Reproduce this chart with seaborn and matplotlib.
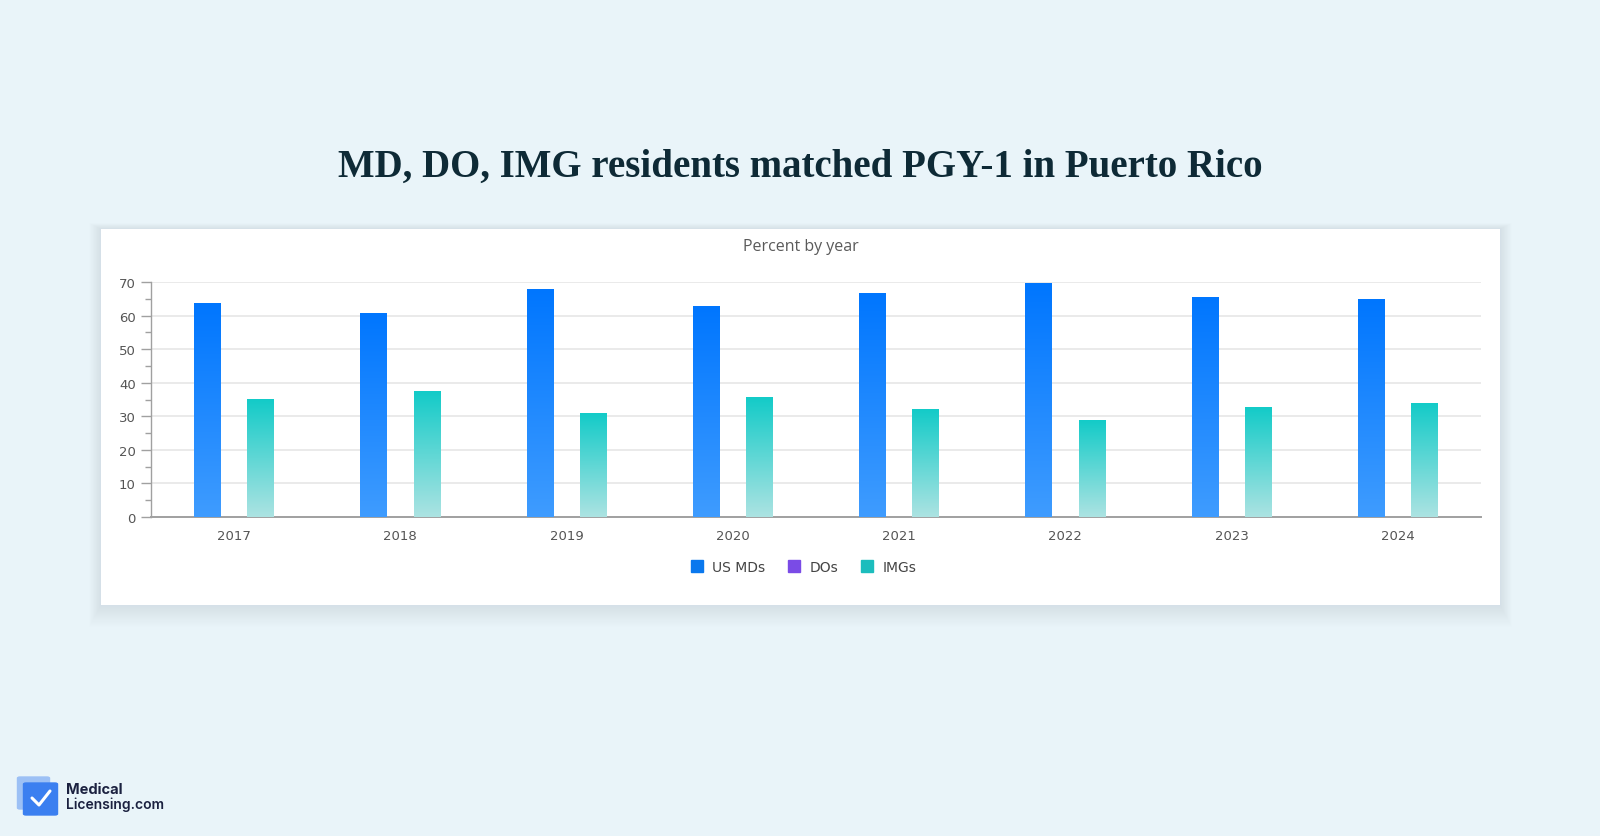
import matplotlib
matplotlib.use("Agg")
import matplotlib.pyplot as plt
import seaborn as sns
import pandas as pd
import numpy as np
from matplotlib.patches import Rectangle, FancyBboxPatch
from matplotlib.lines import Line2D
from matplotlib.colors import LinearSegmentedColormap

# ---------------- data ----------------
years = ["2017", "2018", "2019", "2020", "2021", "2022", "2023", "2024"]
series = ["US MDs", "DOs", "IMGs"]
us_mds = [63.6, 60.5, 67.8, 62.8, 66.6, 69.7, 65.5, 64.7]
dos = [0, 0, 0, 0, 0, 0, 0, 0]
imgs = [34.9, 37.5, 30.7, 35.6, 31.9, 28.8, 32.6, 33.8]
y_ticks = [0, 10, 20, 30, 40, 50, 60, 70]

title = "MD, DO, IMG residents matched PGY-1 in Puerto Rico"
subtitle = "Percent by year"

df = pd.DataFrame({
    "year": years * 3,
    "series": [series[0]] * 8 + [series[1]] * 8 + [series[2]] * 8,
    "value": us_mds + dos + imgs,
})

legend_colors = {"US MDs": "#0a78ee", "DOs": "#7a4be6", "IMGs": "#1cbdbd"}
gradients = {
    "US MDs": ("#3f9cff", "#0076fe"),
    "DOs": ("#a583f0", "#7a4be6"),
    "IMGs": ("#ace3e2", "#13cbc8"),
}

sns.set_theme(style="white")
plt.rcParams["font.family"] = ["DejaVu Sans"]

W, H = 1600, 837
fig = plt.figure(figsize=(16, 8.37), dpi=100)
fig.patch.set_facecolor("#e9f4f9")

def fx(x):
    return x / W

def fy(y):
    return 1 - y / H

# soft panel shadow + panel
px0, py0, px1, py1 = 101, 230, 1500, 606
for i in range(20, 0, -1):
    fig.add_artist(Rectangle((fx(px0 - i * 0.6), fy(py1 + i * 1.1)), fx(px1 - px0 + i * 1.2),
                             (py1 - py0 + i * 1.4) / H, transform=fig.transFigure,
                             facecolor="#c6dce8", edgecolor="none", alpha=0.025, zorder=-3))
fig.add_artist(Rectangle((fx(px0), fy(py1)), fx(px1 - px0), (py1 - py0) / H,
                         transform=fig.transFigure, facecolor="white", edgecolor="none", zorder=-2))

# axes
ax_l, ax_r, ax_t, ax_b = 151, 1481, 283, 518
ax = fig.add_axes([fx(ax_l), fy(ax_b), fx(ax_r - ax_l), (ax_b - ax_t) / H])
ax.set_facecolor("none")

sns.barplot(data=df, x="year", y="value", hue="series", hue_order=series,
            palette=legend_colors, width=0.48, gap=0, legend=False, ax=ax,
            saturation=1, errorbar=None)

# gradient fills
grad = np.linspace(0, 1, 256).reshape(-1, 1)
for cont, name in zip(ax.containers, series):
    cmap = LinearSegmentedColormap.from_list(name, list(gradients[name]))
    for p in cont.patches:
        h = p.get_height()
        if h <= 0:
            p.set_visible(False)
            continue
        x0 = p.get_x()
        w = p.get_width()
        ax.imshow(grad, extent=[x0, x0 + w, 0, h], origin="lower", aspect="auto",
                  cmap=cmap, zorder=3, interpolation="bilinear")
        p.set_visible(False)

ax.set_xlim(-0.5, len(years) - 0.5)
ax.set_ylim(0, 70)
ax.set_yticks(y_ticks)
ax.set_yticks(np.arange(5, 70, 10), minor=True)
ax.set_xlabel("")
ax.set_ylabel("")
ax.grid(axis="y", color="#e6e6e6", linewidth=1.2, zorder=0)
ax.set_axisbelow(True)
for s in ["top", "right"]:
    ax.spines[s].set_visible(False)
ax.spines["left"].set_color("#a0a0a0")
ax.spines["bottom"].set_color("#a0a0a0")
ax.spines["left"].set_linewidth(1.0)
ax.spines["bottom"].set_linewidth(1.4)
ax.tick_params(axis="y", which="major", left=True, length=7, width=1, color="#a0a0a0",
               labelsize=9.5, labelcolor="#555555", pad=4)
ax.tick_params(axis="y", which="minor", left=True, length=4, width=1, color="#a0a0a0")
ax.tick_params(axis="x", bottom=False, labelsize=9.5, labelcolor="#555555", pad=3)

# subtitle
fig.text(fx(801), fy(247), subtitle, ha="center", va="center", fontsize=11.5,
         color="#5a5a5a", family=["Open Sans", "DejaVu Sans"])

# legend
handles = [Line2D([], [], marker="s", linestyle="none", markersize=8,
                  markerfacecolor=legend_colors[n], markeredgecolor=legend_colors[n]) for n in series]
fig.legend(handles, series, loc="center", bbox_to_anchor=(fx(803), fy(568)), ncol=3,
           frameon=False, fontsize=10, labelcolor="#444444", handletextpad=0.6,
           columnspacing=1.6, handlelength=1.0)

# title
fig.text(fx(800), fy(167), title, ha="center", va="center", fontsize=28,
         fontweight="bold", color="#0e2a36", family=["Liberation Serif", "DejaVu Serif"])

# logo
fig.add_artist(FancyBboxPatch((fx(20), fy(809)), fx(27), 30 / H,
                              boxstyle="round,pad=0.002", transform=fig.transFigure,
                              facecolor="#9cc0f5", edgecolor="none"))
fig.add_artist(FancyBboxPatch((fx(26), fy(815)), fx(29), 30 / H,
                              boxstyle="round,pad=0.002", transform=fig.transFigure,
                              facecolor="#3b7ff0", edgecolor="none"))
fig.add_artist(Line2D([fx(32), fx(39), fx(50)], [fy(799), fy(806), fy(792)],
                      transform=fig.transFigure, color="white", linewidth=2.2,
                      solid_capstyle="round", solid_joinstyle="round"))
fig.text(fx(66), fy(790), "Medical", ha="left", va="center", fontsize=10.5,
         fontweight="bold", color="#1b2140", family=["Inter", "DejaVu Sans"])
fig.text(fx(66), fy(805), "Licensing.com", ha="left", va="center", fontsize=10,
         fontweight="semibold", color="#1b2140", family=["Inter", "DejaVu Sans"])

fig.savefig("out.png", dpi=100, facecolor=fig.get_facecolor())
